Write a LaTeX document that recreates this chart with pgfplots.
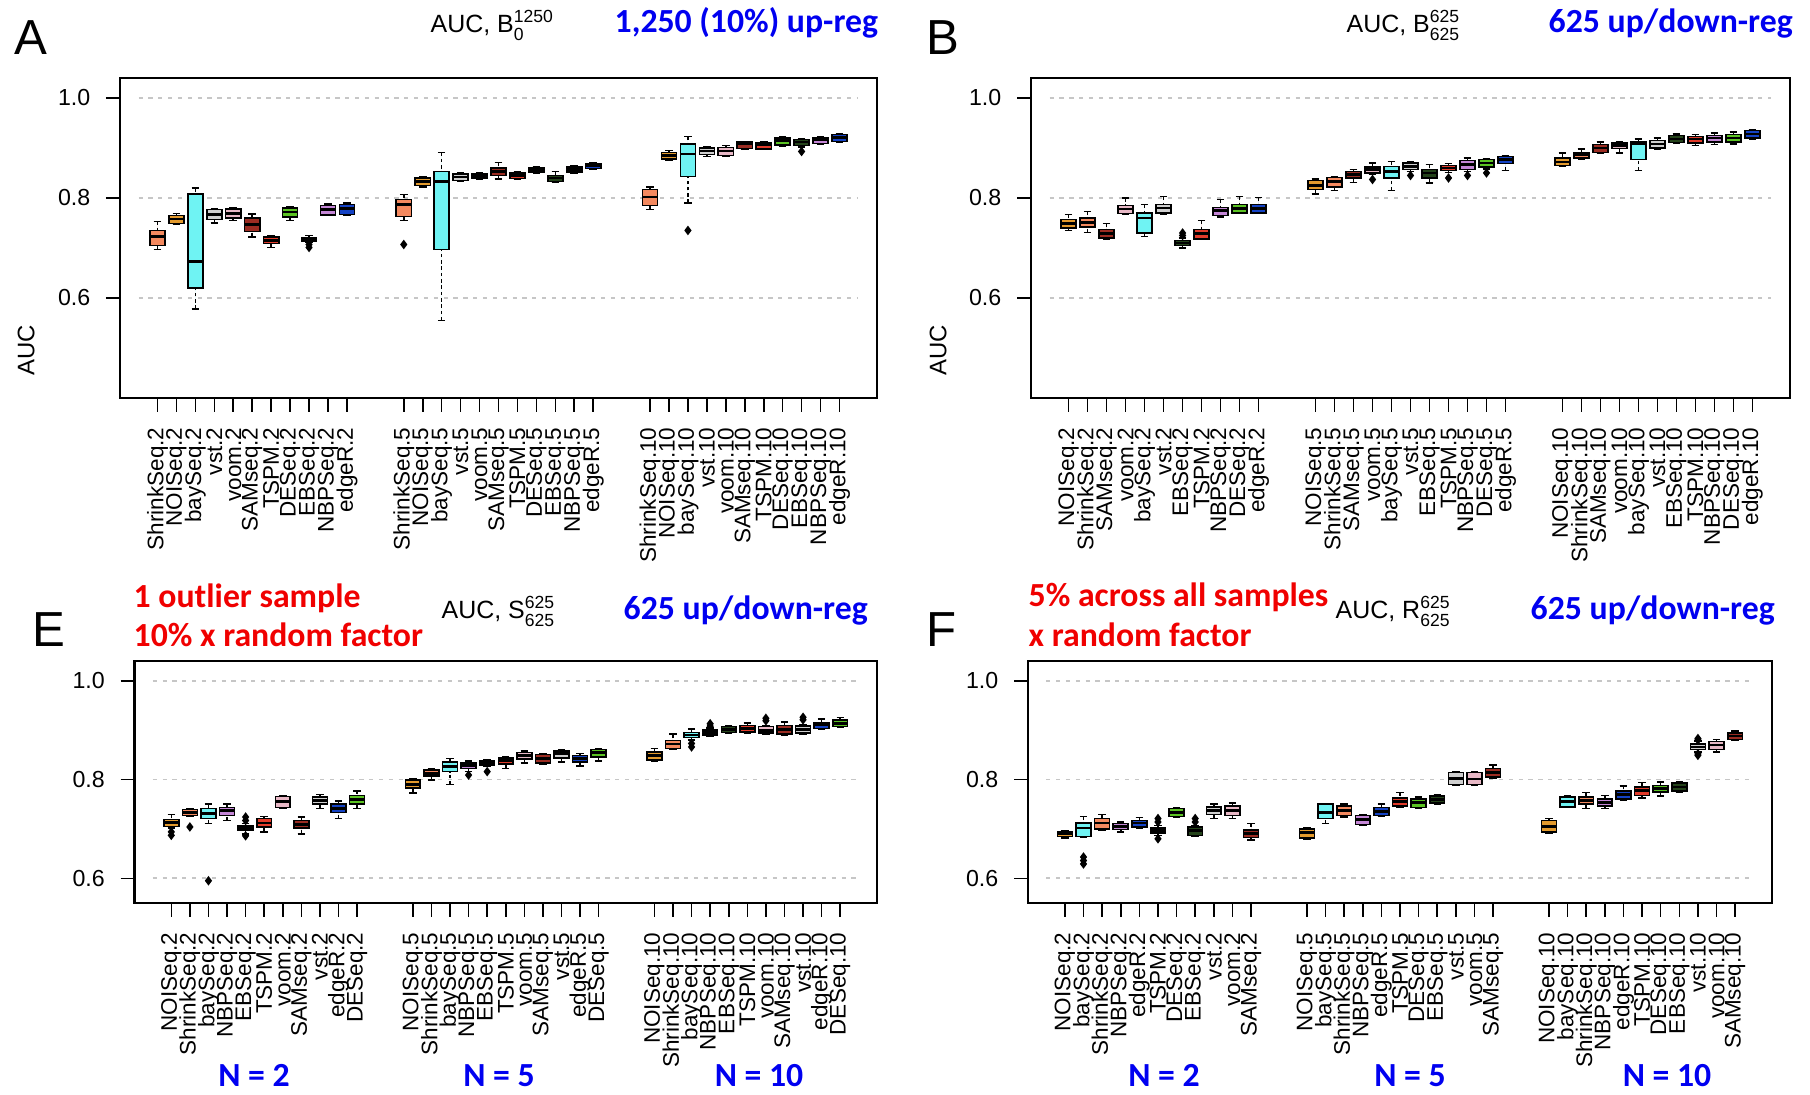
\documentclass[border=0pt]{standalone}
\usepackage{fontspec}
\setmainfont{Liberation Sans}
\newfontfamily\carl{Carlito}
\usepackage{pgfplots}
\pgfplotsset{compat=1.18}
\usepgfplotslibrary{statistics}

\definecolor{cShrink}{HTML}{F4895F}
\definecolor{cNOI}{HTML}{E39A2D}
\definecolor{cBay}{HTML}{6FF3F3}
\definecolor{cVst}{HTML}{CFCFCF}
\definecolor{cVoom}{HTML}{E8B8C6}
\definecolor{cSAM}{HTML}{9B2C22}
\definecolor{cTSPM}{HTML}{E23B2A}
\definecolor{cDES}{HTML}{5BC323}
\definecolor{cEBS}{HTML}{24431A}
\definecolor{cNBP}{HTML}{C486D6}
\definecolor{cEdge}{HTML}{1442C4}
\definecolor{annblue}{HTML}{0000F0}
\definecolor{annred}{HTML}{F00000}

\pgfplotsset{
  boxplot/draw/lower whisker/.code={%
    \draw[dash pattern=on 1pt off 0.8pt]
      (boxplot cs:\pgfplotsboxplotvalue{lower whisker}) --
      (boxplot cs:\pgfplotsboxplotvalue{lower quartile});
    \draw[solid] (boxplot whisker cs:\pgfplotsboxplotvalue{lower whisker},0) --
      (boxplot whisker cs:\pgfplotsboxplotvalue{lower whisker},1);
  },
  boxplot/draw/upper whisker/.code={%
    \draw[dash pattern=on 1pt off 0.8pt]
      (boxplot cs:\pgfplotsboxplotvalue{upper whisker}) --
      (boxplot cs:\pgfplotsboxplotvalue{upper quartile});
    \draw[solid] (boxplot whisker cs:\pgfplotsboxplotvalue{upper whisker},0) --
      (boxplot whisker cs:\pgfplotsboxplotvalue{upper whisker},1);
  },
  bxs/.style={draw=black, line width=0.45pt, mark=diamond*, mark size=1pt,
    mark options={fill=black, draw=black, solid}},
  gridl/.style={gray!45, line width=0.5pt, dash pattern=on 1.2pt off 1.6pt, forget plot},
  panel/.style={
    scale only axis, anchor=south west,
    xmin=-0.98, xmax=38.98,
    xtick={1,2,3,4,5,6,7,8,9,10,11,14,15,16,17,18,19,20,21,22,23,24,27,28,29,30,31,32,33,34,35,36,37},
    ytick={0.6,0.8,1.0}, yticklabels={0.6,0.8,1.0},
    tick pos=left, tick align=outside,
    major tick length=1.4mm,
    axis line style={line width=0.6pt},
    every tick/.style={black, line width=0.45pt},
    tick label style={font=\fontsize{6.6}{7}\selectfont},
    xticklabel style={rotate=90, anchor=east, inner sep=0pt, font=\fontsize{6.4}{7}\selectfont},
    yticklabel style={anchor=east, inner sep=0pt},
    xticklabel shift=1.5mm, yticklabel shift=1.5mm,
    ylabel style={at={(axis description cs:-0.124,0.15)}, anchor=center, font=\fontsize{6.8}{7}\selectfont},
    boxplot/draw direction=y,
    boxplot/box extend=0.8, boxplot/whisker extend=0.4,
    boxplot/every median/.style={line width=0.8pt},
    clip=false,
  },
}

\newcommand\bx[7]{\addplot[bxs, fill=#7, boxplot prepared={draw position=#1,
  lower whisker=#2, lower quartile=#3, median=#4, upper quartile=#5, upper whisker=#6}] coordinates {};}
\newcommand\bxo[8]{\addplot[bxs, fill=#7, boxplot prepared={draw position=#1,
  lower whisker=#2, lower quartile=#3, median=#4, upper quartile=#5, upper whisker=#6}]
  table[row sep=\\, y index=0] {v\\#8};}
\newcommand\gridlines{%
  \addplot[gridl] coordinates {(0,0.6) (38,0.6)};
  \addplot[gridl] coordinates {(0,0.8) (38,0.8)};
  \addplot[gridl] coordinates {(0,1.0) (38,1.0)};}
\newcommand\sps[3]{$\mbox{#1}^{\mbox{\fontsize{5}{5}\selectfont #2}}_{\mbox{\fontsize{5}{5}\selectfont #3}}$}
\newcommand\ttl{\fontsize{7.1}{8}\selectfont}
\newcommand\ann{\fontsize{9.6}{10}\selectfont\carl\bfseries}
\newcommand\letter{\fontsize{14}{14}\selectfont}

\begin{document}
\begin{tikzpicture}
\path[use as bounding box] (0,0) rectangle (18.10,10.94);

% ---------------- Panel A ----------------
\begin{axis}[panel, at={(1.20cm,6.96cm)}, width=7.57cm, height=3.20cm,
  ymin=0.40, ymax=1.04, ylabel={AUC},
  xticklabels={ShrinkSeq.2,NOISeq.2,baySeq.2,vst.2,voom.2,SAMseq.2,TSPM.2,DESeq.2,EBSeq.2,NBPSeq.2,edgeR.2,
    ShrinkSeq.5,NOISeq.5,baySeq.5,vst.5,voom.5,SAMseq.5,TSPM.5,DESeq.5,EBSeq.5,NBPSeq.5,edgeR.5,
    ShrinkSeq.10,NOISeq.10,baySeq.10,vst.10,voom.10,SAMseq.10,TSPM.10,DESeq.10,EBSeq.10,NBPSeq.10,edgeR.10}]
\gridlines
\bx{1}{0.697}{0.705}{0.723}{0.735}{0.753}{cShrink}
\bx{2}{0.747}{0.749}{0.758}{0.765}{0.769}{cNOI}
\bx{3}{0.578}{0.620}{0.673}{0.808}{0.820}{cBay}
\bx{4}{0.750}{0.757}{0.767}{0.777}{0.779}{cVst}
\bx{5}{0.755}{0.760}{0.769}{0.778}{0.780}{cVoom}
\bx{6}{0.722}{0.733}{0.747}{0.760}{0.768}{cSAM}
\bx{7}{0.701}{0.709}{0.715}{0.722}{0.725}{cTSPM}
\bx{8}{0.755}{0.762}{0.772}{0.780}{0.783}{cDES}
\bxo{9}{0.711}{0.713}{0.717}{0.721}{0.725}{cEBS}{0.707\\0.701\\}
\bx{10}{0.765}{0.766}{0.777}{0.785}{0.788}{cNBP}
\bx{11}{0.765}{0.767}{0.779}{0.787}{0.790}{cEdge}
\bxo{14}{0.755}{0.763}{0.787}{0.797}{0.807}{cShrink}{0.707\\}
\bx{15}{0.822}{0.825}{0.833}{0.840}{0.843}{cNOI}
\bx{16}{0.555}{0.697}{0.833}{0.853}{0.891}{cBay}
\bx{17}{0.833}{0.835}{0.842}{0.848}{0.851}{cVst}
\bx{18}{0.837}{0.839}{0.843}{0.848}{0.850}{cVoom}
\bx{19}{0.838}{0.845}{0.853}{0.860}{0.871}{cSAM}
\bx{20}{0.837}{0.839}{0.845}{0.850}{0.852}{cTSPM}
\bx{21}{0.850}{0.852}{0.857}{0.861}{0.862}{cDES}
\bx{22}{0.831}{0.833}{0.840}{0.845}{0.853}{cEBS}
\bx{23}{0.850}{0.852}{0.857}{0.862}{0.865}{cNBP}
\bx{24}{0.857}{0.859}{0.864}{0.868}{0.870}{cEdge}
\bx{27}{0.777}{0.785}{0.802}{0.817}{0.822}{cShrink}
\bx{28}{0.875}{0.878}{0.885}{0.891}{0.895}{cNOI}
\bxo{29}{0.790}{0.843}{0.888}{0.908}{0.923}{cBay}{0.735\\}
\bx{30}{0.883}{0.887}{0.894}{0.900}{0.902}{cVst}
\bx{31}{0.883}{0.885}{0.894}{0.901}{0.905}{cVoom}
\bx{32}{0.897}{0.899}{0.908}{0.912}{0.913}{cSAM}
\bx{33}{0.897}{0.898}{0.906}{0.910}{0.913}{cTSPM}
\bx{34}{0.903}{0.906}{0.915}{0.920}{0.923}{cDES}
\bxo{35}{0.902}{0.905}{0.912}{0.917}{0.919}{cEBS}{0.893\\}
\bx{36}{0.907}{0.909}{0.917}{0.921}{0.923}{cNBP}
\bx{37}{0.912}{0.913}{0.921}{0.927}{0.929}{cEdge}
\end{axis}

% ---------------- Panel B ----------------
\begin{axis}[panel, at={(10.31cm,6.96cm)}, width=7.59cm, height=3.20cm,
  ymin=0.40, ymax=1.04, ylabel={AUC},
  ylabel style={at={(axis description cs:-0.1225,0.15)}},
  xticklabels={NOISeq.2,ShrinkSeq.2,SAMseq.2,voom.2,baySeq.2,vst.2,EBSeq.2,TSPM.2,NBPSeq.2,DESeq.2,edgeR.2,
    NOISeq.5,ShrinkSeq.5,SAMseq.5,voom.5,baySeq.5,vst.5,EBSeq.5,TSPM.5,NBPSeq.5,DESeq.5,edgeR.5,
    NOISeq.10,ShrinkSeq.10,SAMseq.10,voom.10,baySeq.10,vst.10,EBSeq.10,TSPM.10,NBPSeq.10,DESeq.10,edgeR.10}]
\gridlines
\bx{1}{0.735}{0.740}{0.749}{0.757}{0.767}{cNOI}
\bx{2}{0.731}{0.742}{0.751}{0.760}{0.773}{cShrink}
\bx{3}{0.718}{0.720}{0.729}{0.737}{0.749}{cSAM}
\bx{4}{0.767}{0.769}{0.778}{0.785}{0.800}{cVoom}
\bx{5}{0.723}{0.730}{0.760}{0.770}{0.787}{cBay}
\bx{6}{0.767}{0.770}{0.780}{0.787}{0.803}{cVst}
\bxo{7}{0.700}{0.705}{0.710}{0.715}{0.720}{cEBS}{0.730\\0.725\\}
\bx{8}{0.717}{0.718}{0.729}{0.737}{0.755}{cTSPM}
\bx{9}{0.762}{0.765}{0.775}{0.781}{0.797}{cNBP}
\bx{10}{0.769}{0.770}{0.779}{0.787}{0.803}{cDES}
\bx{11}{0.769}{0.770}{0.779}{0.787}{0.801}{cEdge}
\bx{14}{0.808}{0.817}{0.825}{0.835}{0.838}{cNOI}
\bx{15}{0.815}{0.822}{0.833}{0.841}{0.843}{cShrink}
\bx{16}{0.831}{0.840}{0.847}{0.853}{0.857}{cSAM}
\bxo{17}{0.847}{0.850}{0.857}{0.862}{0.870}{cVoom}{0.837\\}
\bx{18}{0.815}{0.840}{0.853}{0.863}{0.873}{cBay}
\bxo{19}{0.853}{0.857}{0.863}{0.870}{0.873}{cVst}{0.845\\}
\bx{20}{0.830}{0.840}{0.850}{0.857}{0.867}{cEBS}
\bxo{21}{0.851}{0.855}{0.860}{0.865}{0.869}{cTSPM}{0.840\\}
\bxo{22}{0.853}{0.857}{0.867}{0.875}{0.880}{cNBP}{0.845\\}
\bxo{23}{0.858}{0.862}{0.870}{0.877}{0.879}{cDES}{0.850\\}
\bx{24}{0.855}{0.869}{0.877}{0.883}{0.885}{cEdge}
\bx{27}{0.863}{0.865}{0.872}{0.880}{0.890}{cNOI}
\bx{28}{0.878}{0.880}{0.887}{0.891}{0.898}{cShrink}
\bx{29}{0.889}{0.891}{0.900}{0.907}{0.912}{cSAM}
\bx{30}{0.890}{0.899}{0.905}{0.910}{0.913}{cVoom}
\bx{31}{0.855}{0.877}{0.909}{0.912}{0.918}{cBay}
\bx{32}{0.898}{0.900}{0.908}{0.915}{0.920}{cVst}
\bx{33}{0.910}{0.911}{0.918}{0.925}{0.928}{cEBS}
\bx{34}{0.905}{0.910}{0.918}{0.923}{0.927}{cTSPM}
\bx{35}{0.907}{0.912}{0.920}{0.925}{0.930}{cNBP}
\bx{36}{0.908}{0.912}{0.920}{0.927}{0.932}{cDES}
\bx{37}{0.918}{0.920}{0.928}{0.935}{0.937}{cEdge}
\end{axis}

% ---------------- Panel E ----------------
\begin{axis}[panel, at={(1.345cm,1.91cm)}, width=7.425cm, height=2.42cm,
  ymin=0.55, ymax=1.04,
  xticklabels={NOISeq.2,ShrinkSeq.2,baySeq.2,NBPSeq.2,EBSeq.2,TSPM.2,voom.2,SAMseq.2,vst.2,edgeR.2,DESeq.2,
    NOISeq.5,ShrinkSeq.5,baySeq.5,NBPSeq.5,EBSeq.5,TSPM.5,voom.5,SAMseq.5,vst.5,edgeR.5,DESeq.5,
    NOISeq.10,ShrinkSeq.10,baySeq.10,NBPSeq.10,EBSeq.10,TSPM.10,voom.10,SAMseq.10,vst.10,edgeR.10,DESeq.10}]
\gridlines
\bxo{1}{0.702}{0.705}{0.713}{0.719}{0.729}{cNOI}{0.694\\0.687\\}
\bxo{2}{0.725}{0.727}{0.733}{0.739}{0.741}{cShrink}{0.704\\}
\bxo{3}{0.711}{0.721}{0.731}{0.741}{0.750}{cBay}{0.595\\}
\bx{4}{0.717}{0.727}{0.738}{0.743}{0.750}{cNBP}
\bxo{5}{0.690}{0.698}{0.702}{0.706}{0.711}{cEBS}{0.724\\0.717\\0.686\\}
\bx{6}{0.694}{0.704}{0.712}{0.721}{0.725}{cTSPM}
\bx{7}{0.741}{0.743}{0.755}{0.766}{0.768}{cVoom}
\bx{8}{0.690}{0.702}{0.709}{0.717}{0.724}{cSAM}
\bx{9}{0.741}{0.750}{0.758}{0.765}{0.770}{cVst}
\bx{10}{0.721}{0.733}{0.741}{0.750}{0.756}{cEdge}
\bx{11}{0.741}{0.750}{0.759}{0.768}{0.777}{cDES}
\bx{14}{0.773}{0.783}{0.790}{0.799}{0.802}{cNOI}
\bx{15}{0.799}{0.807}{0.812}{0.819}{0.822}{cShrink}
\bx{16}{0.790}{0.816}{0.827}{0.836}{0.843}{cBay}
\bxo{17}{0.816}{0.822}{0.829}{0.834}{0.837}{cNBP}{0.809\\}
\bxo{18}{0.826}{0.828}{0.833}{0.837}{0.839}{cEBS}{0.816\\}
\bx{19}{0.822}{0.831}{0.838}{0.844}{0.847}{cTSPM}
\bx{20}{0.833}{0.841}{0.849}{0.855}{0.858}{cVoom}
\bx{21}{0.831}{0.833}{0.843}{0.851}{0.853}{cSAM}
\bx{22}{0.836}{0.844}{0.852}{0.858}{0.861}{cVst}
\bx{23}{0.827}{0.836}{0.843}{0.849}{0.853}{cEdge}
\bx{24}{0.838}{0.846}{0.854}{0.861}{0.863}{cDES}
\bx{27}{0.838}{0.839}{0.848}{0.856}{0.863}{cNOI}
\bx{28}{0.861}{0.863}{0.872}{0.879}{0.892}{cShrink}
\bxo{29}{0.880}{0.885}{0.890}{0.895}{0.902}{cBay}{0.873\\0.866\\}
\bxo{30}{0.888}{0.890}{0.896}{0.900}{0.904}{cNBP}{0.913\\0.908\\}
\bx{31}{0.894}{0.895}{0.902}{0.907}{0.909}{cEBS}
\bx{32}{0.894}{0.896}{0.904}{0.909}{0.915}{cTSPM}
\bxo{33}{0.892}{0.894}{0.900}{0.907}{0.909}{cVoom}{0.924\\0.919\\}
\bx{34}{0.890}{0.892}{0.902}{0.909}{0.917}{cSAM}
\bxo{35}{0.892}{0.894}{0.902}{0.908}{0.911}{cVst}{0.926\\0.921\\}
\bx{36}{0.902}{0.903}{0.911}{0.915}{0.923}{cEdge}
\bx{37}{0.906}{0.907}{0.914}{0.921}{0.926}{cDES}
\end{axis}

% ---------------- Panel F ----------------
\begin{axis}[panel, at={(10.28cm,1.91cm)}, width=7.44cm, height=2.42cm,
  ymin=0.55, ymax=1.04,
  xticklabels={NOISeq.2,baySeq.2,ShrinkSeq.2,NBPSeq.2,edgeR.2,TSPM.2,DESeq.2,EBSeq.2,vst.2,voom.2,SAMseq.2,
    NOISeq.5,baySeq.5,ShrinkSeq.5,NBPSeq.5,edgeR.5,TSPM.5,DESeq.5,EBSeq.5,vst.5,voom.5,SAMseq.5,
    NOISeq.10,baySeq.10,ShrinkSeq.10,NBPSeq.10,edgeR.10,TSPM.10,DESeq.10,EBSeq.10,vst.10,voom.10,SAMseq.10}]
\gridlines
\bx{1}{0.682}{0.685}{0.690}{0.695}{0.696}{cNOI}
\bxo{2}{0.683}{0.685}{0.702}{0.712}{0.725}{cBay}{0.643\\0.636\\0.629\\}
\bx{3}{0.697}{0.700}{0.712}{0.721}{0.729}{cShrink}
\bx{4}{0.694}{0.699}{0.705}{0.711}{0.714}{cNBP}
\bx{5}{0.702}{0.704}{0.712}{0.717}{0.723}{cEdge}
\bxo{6}{0.687}{0.692}{0.697}{0.702}{0.707}{cTSPM}{0.721\\0.714\\0.680\\}
\bx{7}{0.723}{0.725}{0.733}{0.741}{0.743}{cDES}
\bxo{8}{0.685}{0.687}{0.697}{0.704}{0.707}{cEBS}{0.721\\0.714\\}
\bx{9}{0.721}{0.729}{0.738}{0.744}{0.750}{cVst}
\bx{10}{0.721}{0.727}{0.738}{0.746}{0.753}{cVoom}
\bx{11}{0.677}{0.683}{0.690}{0.698}{0.711}{cSAM}
\bx{14}{0.680}{0.682}{0.692}{0.700}{0.702}{cNOI}
\bx{15}{0.711}{0.721}{0.734}{0.750}{0.751}{cBay}
\bx{16}{0.724}{0.727}{0.738}{0.746}{0.750}{cShrink}
\bx{17}{0.707}{0.709}{0.719}{0.727}{0.729}{cNBP}
\bx{18}{0.725}{0.727}{0.736}{0.743}{0.750}{cEdge}
\bx{19}{0.744}{0.746}{0.755}{0.763}{0.774}{cTSPM}
\bx{20}{0.741}{0.743}{0.753}{0.761}{0.765}{cDES}
\bx{21}{0.751}{0.753}{0.760}{0.767}{0.770}{cEBS}
\bx{22}{0.788}{0.790}{0.802}{0.814}{0.816}{cVst}
\bx{23}{0.788}{0.790}{0.801}{0.814}{0.816}{cVoom}
\bx{24}{0.803}{0.805}{0.814}{0.822}{0.829}{cSAM}
\bx{27}{0.692}{0.694}{0.705}{0.717}{0.721}{cNOI}
\bx{28}{0.743}{0.744}{0.756}{0.765}{0.767}{cBay}
\bx{29}{0.741}{0.750}{0.758}{0.765}{0.774}{cShrink}
\bx{30}{0.741}{0.746}{0.753}{0.761}{0.768}{cNBP}
\bx{31}{0.758}{0.761}{0.769}{0.777}{0.787}{cEdge}
\bx{32}{0.763}{0.768}{0.778}{0.785}{0.794}{cTSPM}
\bx{33}{0.767}{0.775}{0.782}{0.788}{0.795}{cDES}
\bx{34}{0.774}{0.777}{0.785}{0.793}{0.795}{cEBS}
\bxo{35}{0.856}{0.861}{0.866}{0.872}{0.878}{cVst}{0.883\\0.880\\0.852\\0.849\\}
\bx{36}{0.856}{0.861}{0.870}{0.877}{0.881}{cVoom}
\bx{37}{0.880}{0.881}{0.888}{0.894}{0.898}{cSAM}
\end{axis}

% ---------------- Texts ----------------
\node[anchor=base west, inner sep=0pt] at (0.14,10.39) {\letter A};
\node[anchor=base west, inner sep=0pt] at (9.26,10.39) {\letter B};
\node[anchor=base west, inner sep=0pt] at (0.32,4.47) {\letter E};
\node[anchor=base west, inner sep=0pt] at (9.26,4.47) {\letter F};

\node[anchor=base west, inner sep=0pt] at (4.30,10.61) {\ttl AUC,\ \sps{B}{1250}{0}};
\node[anchor=base west, inner sep=0pt] at (13.46,10.61) {\ttl AUC,\ \sps{B}{625}{625}};
\node[anchor=base west, inner sep=0pt] at (4.41,4.75) {\ttl AUC,\ \sps{S}{625}{625}};
\node[anchor=base west, inner sep=0pt] at (13.35,4.75) {\ttl AUC,\ \sps{R}{625}{625}};

\node[anchor=base west, inner sep=0pt, text=annblue] at (6.14,10.61) {\ann 1,250 (10\%) up-reg};
\node[anchor=base west, inner sep=0pt, text=annblue] at (15.48,10.61) {\ann 625 up/down-reg};
\node[anchor=base west, inner sep=0pt, text=annblue] at (6.23,4.74) {\ann 625 up/down-reg};
\node[anchor=base west, inner sep=0pt, text=annblue] at (15.30,4.74) {\ann 625 up/down-reg};

\node[anchor=base west, inner sep=0pt, text=annred] at (1.33,4.86) {\ann 1 outlier sample};
\node[anchor=base west, inner sep=0pt, text=annred] at (1.33,4.47) {\ann 10\% x random factor};
\node[anchor=base west, inner sep=0pt, text=annred] at (10.28,4.87) {\ann 5\% across all\ samples};
\node[anchor=base west, inner sep=0pt, text=annred] at (10.28,4.47) {\ann x random factor};

\node[anchor=base, inner sep=0pt, text=annblue] at (2.54,0.08) {\ann N = 2};
\node[anchor=base, inner sep=0pt, text=annblue] at (4.99,0.08) {\ann N = 5};
\node[anchor=base, inner sep=0pt, text=annblue] at (7.59,0.08) {\ann N = 10};
\node[anchor=base, inner sep=0pt, text=annblue] at (11.64,0.08) {\ann N = 2};
\node[anchor=base, inner sep=0pt, text=annblue] at (14.10,0.08) {\ann N = 5};
\node[anchor=base, inner sep=0pt, text=annblue] at (16.67,0.08) {\ann N = 10};
\end{tikzpicture}
\end{document}
